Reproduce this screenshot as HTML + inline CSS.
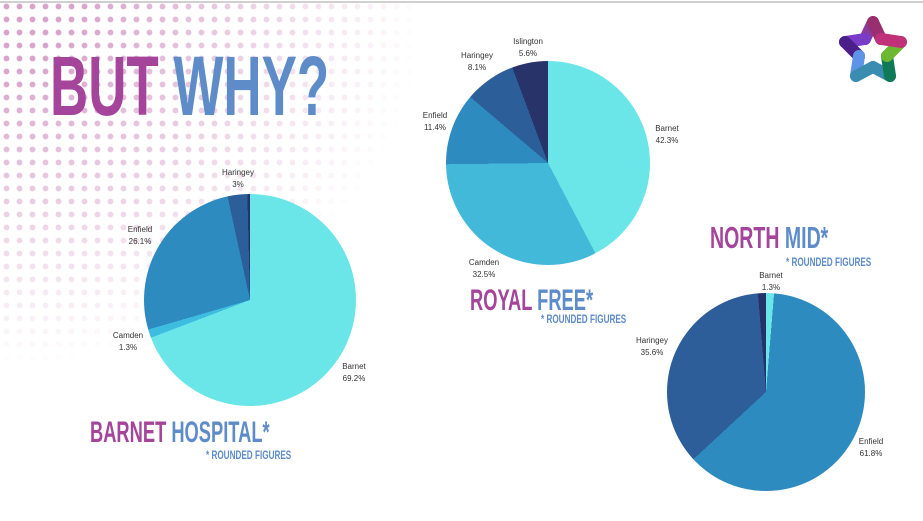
<!DOCTYPE html>
<html><head><meta charset="utf-8"><style>
*{margin:0;padding:0}
html,body{width:923px;height:521px;overflow:hidden}
body{background:#fff;position:relative;font-family:"Liberation Sans",sans-serif}
.dots{position:absolute;left:0;top:0;width:500px;height:480px;
background-image:radial-gradient(circle,#d8a4cb 2.6px,transparent 3.2px);background-size:13px 13px;
-webkit-mask-image:radial-gradient(ellipse 100% 90% at 0% 0%,#000 15%,rgba(0,0,0,.5) 50%,transparent 85%);
mask-image:radial-gradient(ellipse 100% 90% at 0% 0%,#000 15%,rgba(0,0,0,.5) 50%,transparent 85%)}
.topline{position:absolute;left:0;top:1px;width:923px;height:2px;background:#d0d0d0}
.t{position:absolute;font-weight:bold;white-space:nowrap;transform-origin:0 0;line-height:1}
.p{color:#a4449a}.b{color:#5e8cc9}
.pie{position:absolute;border-radius:50%}
.l{position:absolute;font-size:8px;color:#333;text-align:center;line-height:11.5px;transform:translateX(-50%);white-space:nowrap}
</style></head><body>
<div class="dots"></div>
<div class="topline"></div>

<div class="t" style="left:50px;top:44px;font-size:84px;transform:scaleX(0.63)"><span class="p">BUT</span> <span class="b">WHY?</span></div>

<div class="t" style="left:90px;top:418px;font-size:30px;transform:scaleX(0.61)"><span class="p">BARNET</span> <span class="b">HOSPITAL*</span></div>
<div class="t b" style="left:206px;top:449px;font-size:12px;transform:scaleX(0.68)">* ROUNDED FIGURES</div>

<div class="t" style="left:470px;top:286px;font-size:30px;transform:scaleX(0.61)"><span class="p">ROYAL</span> <span class="b">FREE*</span></div>
<div class="t b" style="left:541px;top:313px;font-size:12px;transform:scaleX(0.68)">* ROUNDED FIGURES</div>

<div class="t" style="left:710px;top:222px;font-size:31px;transform:scaleX(0.63)"><span class="p">NORTH</span> <span class="b">MID*</span></div>
<div class="t b" style="left:786px;top:256px;font-size:12px;transform:scaleX(0.68)">* ROUNDED FIGURES</div>

<div class="pie" style="left:144px;top:194px;width:212px;height:212px;background:conic-gradient(#6ae6e8 0 69.2%,#3fbde0 69.2% 70.5%,#2e8bbf 70.5% 96.6%,#2c5f9a 96.6% 99.6%,#26336a 99.6% 100%)"></div>
<div class="pie" style="left:446px;top:61px;width:204px;height:204px;background:conic-gradient(#6ae6e8 0 42.3%,#42b9d9 42.3% 74.8%,#2e8bbf 74.8% 86.2%,#2c5f9a 86.2% 94.3%,#28336a 94.3% 100%)"></div>
<div class="pie" style="left:667px;top:293px;width:198px;height:198px;background:conic-gradient(#6ae6e8 0 1.3%,#2e8bbf 1.3% 63.1%,#2d5e99 63.1% 98.7%,#26336a 98.7% 100%)"></div>

<div class="l" style="left:238px;top:167px">Haringey<br>3%</div>
<div class="l" style="left:140px;top:224px">Enfield<br>26.1%</div>
<div class="l" style="left:128px;top:330px">Camden<br>1.3%</div>
<div class="l" style="left:354px;top:361px">Barnet<br>69.2%</div>

<div class="l" style="left:528px;top:36px">Islington<br>5.6%</div>
<div class="l" style="left:477px;top:50px">Haringey<br>8.1%</div>
<div class="l" style="left:435px;top:110px">Enfield<br>11.4%</div>
<div class="l" style="left:667px;top:123px">Barnet<br>42.3%</div>
<div class="l" style="left:484px;top:257px">Camden<br>32.5%</div>

<div class="l" style="left:771px;top:270px">Barnet<br>1.3%</div>
<div class="l" style="left:652px;top:335px">Haringey<br>35.6%</div>
<div class="l" style="left:871px;top:436px">Enfield<br>61.8%</div>

<svg style="position:absolute;left:830px;top:10px" width="86" height="80" viewBox="0 0 86 80">
<g fill="none" stroke-width="12" stroke-linecap="round" stroke-linejoin="round">
<path d="M43 12 L35 29" stroke="#8a3a9a"/>
<path d="M43 12 L51 29" stroke="#9a2f6f"/>
<path d="M35 29 L15 32" stroke="#7a3cc6"/>
<path d="M15 32 L29 46" stroke="#4a1f8a"/>
<path d="M29 46 L26 66" stroke="#5e94e8"/>
<path d="M26 66 L43 57" stroke="#3a8db0"/>
<path d="M43 57 L60 66" stroke="#3a8db0"/>
<path d="M60 66 L57 46" stroke="#0e7a58"/>
<path d="M57 46 L71 32" stroke="#6cb830"/>
<path d="M71 32 L51 29" stroke="#c0317a"/>
</g></svg>
</body></html>
